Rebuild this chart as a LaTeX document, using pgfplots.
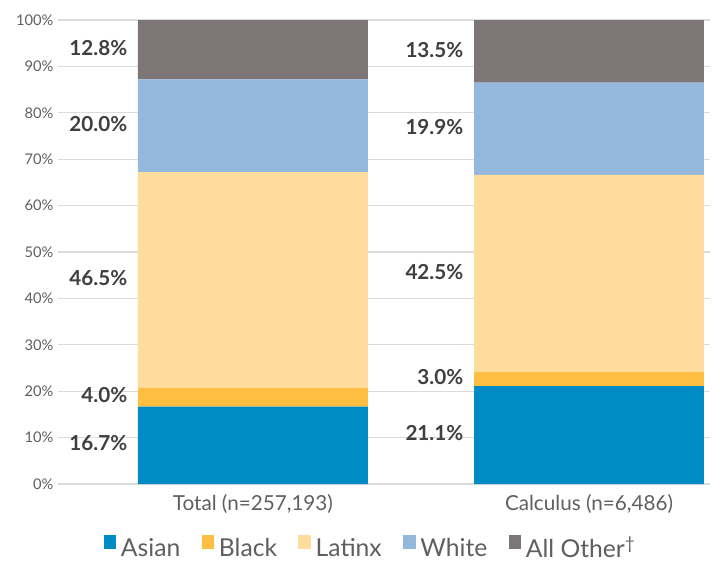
\documentclass[border=0pt]{standalone}
\usepackage{fontspec}
\setmainfont{Lato}
\usepackage{pgfplots}
\pgfplotsset{compat=1.18}
\definecolor{cAsian}{HTML}{008BC4}
\definecolor{cBlack}{HTML}{FDBE41}
\definecolor{cLatinx}{HTML}{FEDC9E}
\definecolor{cWhite}{HTML}{93B8DB}
\definecolor{cOther}{HTML}{7D7676}
\definecolor{labelgray}{HTML}{5F5F5F}
\definecolor{darktext}{HTML}{3F3F3F}

\pgfplotstableread{
x y lab
-0.36 8.9 16.7
-0.36 19.1 4.0
-0.36 44.3 46.5
-0.36 77.5 20.0
-0.36 94.0 12.8
0.64 11.0 21.1
0.64 23.1 3.0
0.64 45.7 42.5
0.64 76.9 19.9
0.64 93.6 13.5
}\pctlabels

\begin{document}
\begin{tikzpicture}
\path[use as bounding box] (-43.5pt,-58.5pt) rectangle (496.5pt,363pt);
\pgfplotsset{common/.style={scale only axis,width=489pt,height=348pt,
  xmin=-0.58,xmax=1.36,ymin=0,ymax=100,enlarge x limits=false,enlarge y limits=false}}
\begin{axis}[common,
  ybar stacked,bar width=0.684,
  axis line style={draw=none},tick style={draw=none},
  ymajorgrids,grid style={color=gray!28,line width=0.8pt},
  ytick={0,10,...,100},
  yticklabel={\pgfmathprintnumber{\tick}\%},
  /pgf/number format/assume math mode=true,
  yticklabel style={font=\fontsize{11}{13}\selectfont,text=labelgray},
  xtick={0,1},
  xticklabels={{Total (n=257,193)},{Calculus (n=6,486)}},
  xticklabel style={font=\fontsize{15.5}{18}\selectfont,text=labelgray,yshift=-4pt},
  legend columns=5,
  legend style={draw=none,at={(0.48,-0.138)},anchor=center,
    font=\fontsize{18.5}{21}\selectfont,text=labelgray,inner sep=0pt,
    /tikz/every odd column/.append style={column sep=1.5pt},
    /tikz/every even column/.append style={column sep=14pt}},
  legend image code/.code={\fill[#1] (0pt,-1pt) rectangle (9.5pt,10pt);},
]
\addplot[fill=cAsian,draw=none] coordinates {(0,16.7) (1,21.1)};
\addplot[fill=cBlack,draw=none] coordinates {(0,4.0) (1,3.0)};
\addplot[fill=cLatinx,draw=none] coordinates {(0,46.5) (1,42.5)};
\addplot[fill=cWhite,draw=none] coordinates {(0,20.0) (1,19.9)};
\addplot[fill=cOther,draw=none] coordinates {(0,12.8) (1,13.5)};
\legend{Asian,Black,Latinx,White,All Other\textsuperscript{†}}
\end{axis}
\begin{axis}[common,hide axis]
\addplot[draw=none,mark=none,nodes near coords={\pgfplotspointmeta\%},
  point meta=explicit symbolic,nodes near coords align={left},
  every node near coord/.append style={font=\bfseries\fontsize{15.5}{18}\selectfont,text=darktext}]
  table[x=x,y=y,meta=lab] {\pctlabels};
\end{axis}
\end{tikzpicture}
\end{document}
